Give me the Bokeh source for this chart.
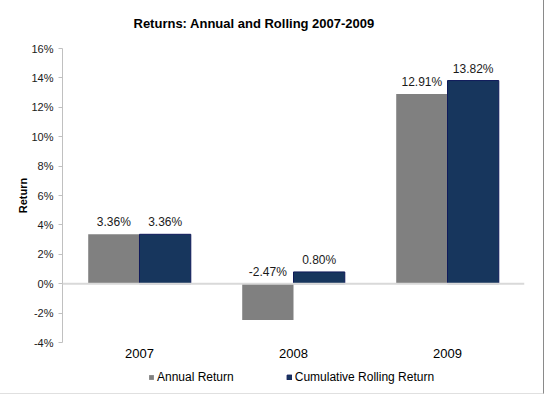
from bokeh.plotting import figure
from bokeh.layouts import column
from bokeh.models import FactorRange, Range1d, FixedTicker, PrintfTickFormatter, Span, Legend, LegendItem, ColumnDataSource
from bokeh.transform import dodge
from bokeh.core.properties import value
from bokeh.embed import file_html
from bokeh.resources import INLINE

years = ["2007", "2008", "2009"]
annual = [3.36, -2.47, 12.91]
rolling = [3.36, 0.80, 13.82]
series_names = ["Annual Return", "Cumulative Rolling Return"]
y_ticks = [-4, -2, 0, 2, 4, 6, 8, 10, 12, 14, 16]

FONT = "Liberation Sans"
GRAY = "#808080"
NAVY = "#17365d"
NAVY_EDGE = "#0f1a5a"

src = ColumnDataSource(dict(
    year=years, annual=annual, rolling=rolling,
    annual_lab=[f"{v:.2f}%" for v in annual],
    rolling_lab=[f"{v:.2f}%" for v in rolling],
    annual_y=[max(v, 0) for v in annual],
    rolling_y=[max(v, 0) for v in rolling],
))

p = figure(x_range=FactorRange(*years), y_range=(-4, 16), width=543, height=363,
           output_backend="svg", toolbar_location=None,
           min_border_left=62, min_border_right=19, min_border_top=46, min_border_bottom=21)

p.title.text = "Returns: Annual and Rolling 2007-2009"
p.title.text_font = FONT
p.title.text_font_size = "13px"
p.title.text_font_style = "bold"
p.title.align = "left"
p.title.offset = 71
p.title.standoff = 31
p.title.vertical_align = "top"
p.title.text_color = "#000000"

w = 0.333
p.vbar(x=dodge("year", -0.1665, range=p.x_range), top="annual", bottom=0, width=w,
       source=src, fill_color=GRAY, line_color=None)
p.vbar(x=dodge("year", 0.1665, range=p.x_range), top="rolling", bottom=0, width=w,
       source=src, fill_color=NAVY, line_color=NAVY_EDGE, line_width=1)

for xo, ycol, lab in [(-0.1665, "annual_y", "annual_lab"), (0.1665, "rolling_y", "rolling_lab")]:
    p.text(x=dodge("year", xo, range=p.x_range), y=ycol, text=lab, source=src,
           text_align="center", text_baseline="bottom", y_offset=-5,
           text_font=value(FONT), text_font_size="12px", text_color="#1a1a1a")

p.add_layout(Span(location=0, dimension="width", line_color="#d9d9d9", line_width=2))

p.xgrid.visible = False
p.ygrid.visible = False
p.outline_line_color = None

p.yaxis.ticker = FixedTicker(ticks=y_ticks)
p.yaxis.formatter = PrintfTickFormatter(format="%d%%")
p.yaxis.axis_label = "Return"
p.yaxis.axis_label_text_font = FONT
p.yaxis.axis_label_text_font_size = "11px"
p.yaxis.axis_label_text_font_style = "bold"
p.yaxis.axis_label_text_color = "#000000"
p.yaxis.axis_label_standoff = -1
p.yaxis.major_label_text_font = FONT
p.yaxis.major_label_text_font_size = "11px"
p.yaxis.major_label_text_color = "#1a1a1a"
p.yaxis.axis_line_color = "#c0c0c0"
p.yaxis.major_tick_line_color = "#c0c0c0"
p.yaxis.major_tick_in = 0
p.yaxis.major_tick_out = 4
p.yaxis.minor_tick_line_color = None
p.yaxis.major_label_standoff = 5

p.xaxis.axis_line_color = None
p.xaxis.major_tick_line_color = None
p.xaxis.minor_tick_line_color = None
p.xaxis.major_label_text_font = FONT
p.xaxis.major_label_text_font_size = "13px"
p.xaxis.major_label_text_color = "#000000"
p.xaxis.major_label_standoff = 0

# legend strip below the chart (its bars lie outside its visible y range; only the key shows)
leg = figure(width=543, height=30, x_range=FactorRange(*years), y_range=Range1d(20, 21),
             output_backend="svg", toolbar_location=None,
             min_border_left=0, min_border_right=0, min_border_top=0, min_border_bottom=0)
leg.axis.visible = False
leg.grid.visible = False
leg.outline_line_color = None
l1 = leg.vbar(x="year", top="annual", bottom=0, width=0.1, source=src,
              fill_color=GRAY, line_color=None)
l2 = leg.vbar(x="year", top="rolling", bottom=0, width=0.1, source=src,
              fill_color=NAVY, line_color=NAVY_EDGE)

legend = Legend(items=[LegendItem(label=series_names[0], renderers=[l1], index=0),
                       LegendItem(label=series_names[1], renderers=[l2], index=0)],
                orientation="horizontal", location=(86, 9),
                glyph_width=6, glyph_height=6, label_standoff=3, spacing=52,
                padding=0, margin=0, border_line_color=None, background_fill_alpha=0,
                label_text_font=FONT, label_text_font_size="12px", label_text_color="#000000",
                label_height=12)
leg.add_layout(legend, "center")

layout = column(p, leg, spacing=0,
                styles={"border-right": "1px solid #8a8a8a", "border-bottom": "1px solid #e0e0e0"})

open("out.html", "w").write(file_html(layout, INLINE))
